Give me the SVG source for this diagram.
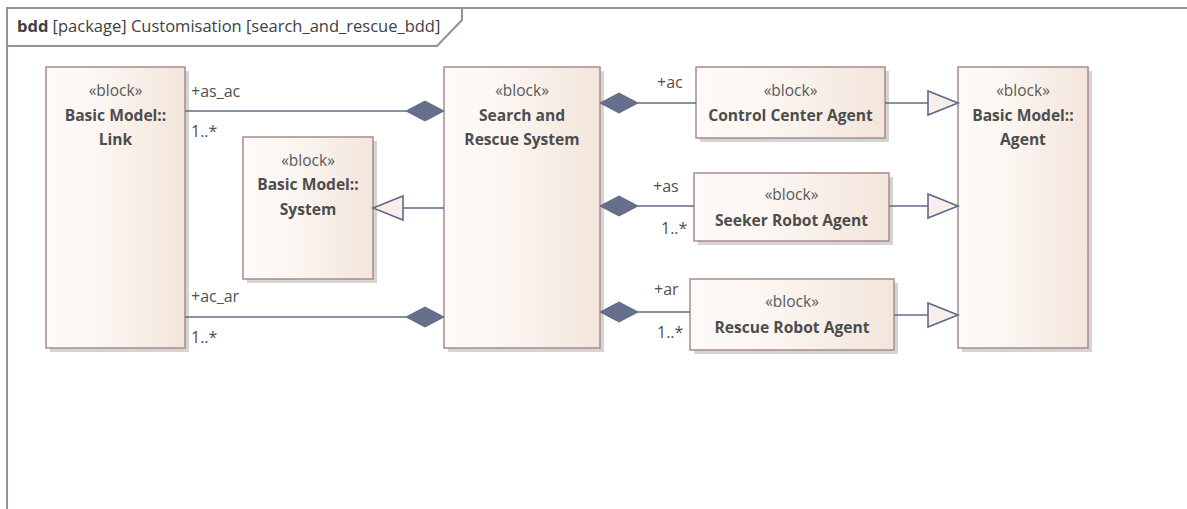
<svg xmlns="http://www.w3.org/2000/svg" width="1187" height="509" viewBox="0 0 1187 509">
  <style>
    .frame { fill: none; stroke: #9e8f8f; stroke-width: 2; }
    .shadow { fill: #d4d4d4; }
    .box { fill: url(#blockFill); stroke: #a88c8c; stroke-width: 1.5; }
    .st { font-family: "Open Sans", "Noto Sans", sans-serif; font-size: 15.5px; fill: #595959; text-anchor: middle; }
    .nm { font-family: "Open Sans", "Noto Sans", sans-serif; font-size: 15.6px; font-weight: bold; fill: #4d4d4d; text-anchor: middle; }
    .lbl { font-family: "Open Sans", "Noto Sans", sans-serif; font-size: 16px; fill: #505050; }
    .title { font-family: "Open Sans", "Noto Sans", sans-serif; font-size: 16.5px; fill: #404040; }
    .conn { fill: none; stroke: #5f6b87; stroke-width: 1.6; }
    .diamond { fill: #66708c; stroke: #5f6b87; stroke-width: 1; }
    .gen { fill: #f9eeec; stroke: #5f6b87; stroke-width: 1.6; }
  </style>
  <defs>
    <linearGradient id="blockFill" x1="0" y1="0" x2="1" y2="0">
      <stop offset="0" stop-color="#fdfaf7"/>
      <stop offset="0.35" stop-color="#fcf7f3"/>
      <stop offset="1" stop-color="#f3e5db"/>
    </linearGradient>
  </defs>

  <rect width="1187" height="509" fill="#ffffff"/>

  <!-- package frame with name tab -->
  <g id="frame">
    <path class="frame" d="M7,509 V8 H1187"/>
    <path class="frame" d="M7,46 H437 L462,20 V8"/>
    <text class="title" x="17" y="32"><tspan font-weight="bold">bdd</tspan> [package] Customisation [search_and_rescue_bdd]</text>
  </g>

  <!-- blocks -->
  <g id="link">
    <rect class="shadow" x="50" y="71" width="139" height="281"/>
    <rect class="box" x="46" y="67" width="139" height="281"/>
    <text class="st" x="115.5" y="96">«block»</text>
    <text class="nm" x="115.5" y="121">Basic Model::</text>
    <text class="nm" x="115.5" y="145">Link</text>
  </g>

  <g id="system">
    <rect class="shadow" x="247" y="141" width="130" height="142"/>
    <rect class="box" x="243" y="137" width="130" height="142"/>
    <text class="st" x="308" y="166">«block»</text>
    <text class="nm" x="308" y="190">Basic Model::</text>
    <text class="nm" x="308" y="215">System</text>
  </g>

  <g id="search-and-rescue-system">
    <rect class="shadow" x="448" y="71" width="156" height="281"/>
    <rect class="box" x="444" y="67" width="156" height="281"/>
    <text class="st" x="522" y="96">«block»</text>
    <text class="nm" x="522" y="121">Search and</text>
    <text class="nm" x="522" y="145">Rescue System</text>
  </g>

  <g id="control-center-agent">
    <rect class="shadow" x="700" y="71" width="189" height="71"/>
    <rect class="box" x="696" y="67" width="189" height="71"/>
    <text class="st" x="790.5" y="96">«block»</text>
    <text class="nm" x="790.5" y="121">Control Center Agent</text>
  </g>

  <g id="seeker-robot-agent">
    <rect class="shadow" x="698" y="177" width="195" height="68"/>
    <rect class="box" x="694" y="173" width="195" height="68"/>
    <text class="st" x="791.5" y="200">«block»</text>
    <text class="nm" x="791.5" y="226">Seeker Robot Agent</text>
  </g>

  <g id="rescue-robot-agent">
    <rect class="shadow" x="694" y="283" width="204" height="71"/>
    <rect class="box" x="690" y="279" width="204" height="71"/>
    <text class="st" x="792" y="307">«block»</text>
    <text class="nm" x="792" y="333">Rescue Robot Agent</text>
  </g>

  <g id="agent">
    <rect class="shadow" x="962" y="71" width="130" height="281"/>
    <rect class="box" x="958" y="67" width="130" height="281"/>
    <text class="st" x="1023" y="96">«block»</text>
    <text class="nm" x="1023" y="121">Basic Model::</text>
    <text class="nm" x="1023" y="145">Agent</text>
  </g>

  <!-- connectors -->
  <g id="connectors">
    <!-- compositions: Link parts of Search and Rescue System -->
    <line class="conn" x1="185" y1="111" x2="406" y2="111"/>
    <polygon class="diamond" points="444,111 425,101 406,111 425,121"/>
    <text class="lbl" x="191" y="97">+as_ac</text>
    <text class="lbl" x="191" y="137">1..*</text>

    <line class="conn" x1="185" y1="317" x2="406" y2="317"/>
    <polygon class="diamond" points="444,317 425,307 406,317 425,327"/>
    <text class="lbl" x="191" y="302">+ac_ar</text>
    <text class="lbl" x="191" y="343">1..*</text>

    <!-- generalization: Search and Rescue System to System -->
    <line class="conn" x1="444" y1="208" x2="403" y2="208"/>
    <polygon class="gen" points="373,208 403,196 403,220"/>

    <!-- compositions: agents parts of Search and Rescue System -->
    <line class="conn" x1="638" y1="103" x2="696" y2="103"/>
    <polygon class="diamond" points="600,103 619,93 638,103 619,113"/>
    <text class="lbl" x="657" y="88">+ac</text>

    <line class="conn" x1="638" y1="206" x2="694" y2="206"/>
    <polygon class="diamond" points="600,206 619,196 638,206 619,216"/>
    <text class="lbl" x="653" y="192">+as</text>
    <text class="lbl" x="661" y="234">1..*</text>

    <line class="conn" x1="638" y1="312" x2="690" y2="312"/>
    <polygon class="diamond" points="600,312 619,302 638,312 619,322"/>
    <text class="lbl" x="654" y="295">+ar</text>
    <text class="lbl" x="657" y="338">1..*</text>

    <!-- generalizations: agents to Agent -->
    <line class="conn" x1="885" y1="103" x2="928" y2="103"/>
    <polygon class="gen" points="958,103 928,91 928,115"/>

    <line class="conn" x1="889" y1="206" x2="928" y2="206"/>
    <polygon class="gen" points="958,206 928,194 928,218"/>

    <line class="conn" x1="894" y1="315" x2="928" y2="315"/>
    <polygon class="gen" points="958,315 928,303 928,327"/>
  </g>
</svg>
